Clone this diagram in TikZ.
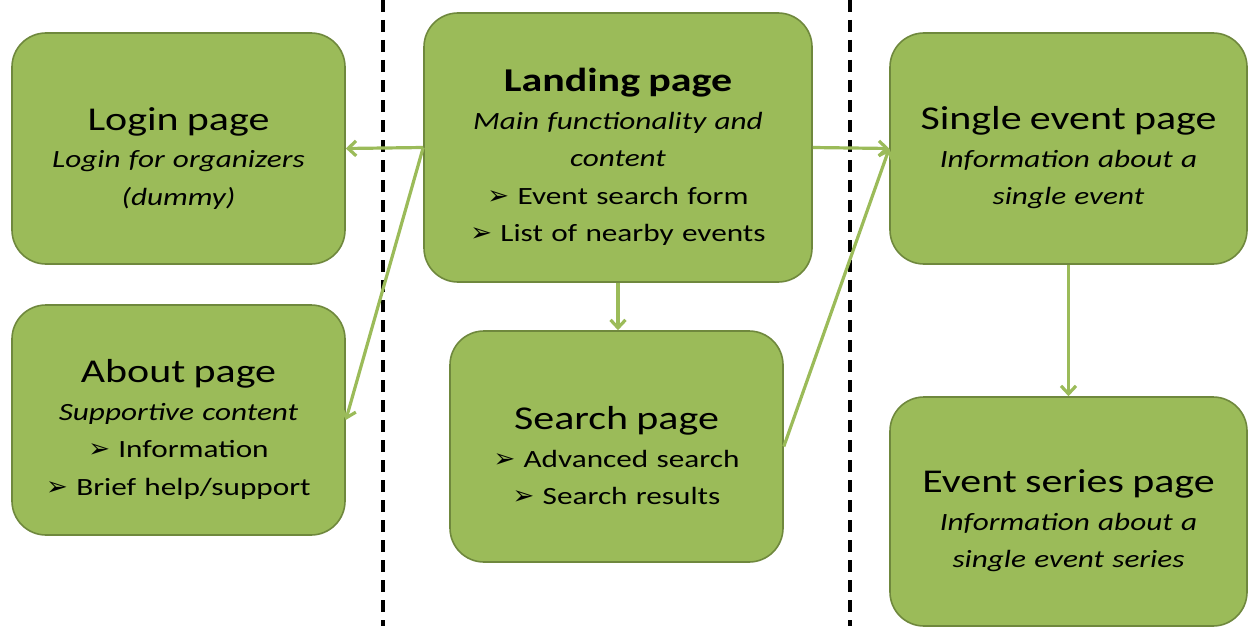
\documentclass[tikz,border=0pt]{standalone}
\usepackage{fontspec}
\setmainfont{Carlito}[FakeStretch=1.26]
\newfontfamily\bulletfont{DejaVu Sans}
\usetikzlibrary{arrows.meta}
\newcommand{\pbullet}{{\bulletfont\fontsize{26}{26}\selectfont ➢}\ }
\newcommand{\ptitle}[1]{\rule{0pt}{42pt}{\fontsize{33.3}{37}\selectfont #1}}
\begin{document}
\begin{tikzpicture}[x=1pt,y=-1pt,
  pagebox/.style={draw=edgegreen,fill=boxgreen,line width=1.6pt,rounded corners=34pt,
    align=center,inner sep=0pt,font=\fontsize{24.8}{37.5}\selectfont},
  link/.style={draw=linkgreen,line width=3.2pt,-{Straight Barb[length=8pt,width=15pt]}},
  divider/.style={line width=3.4pt,dash pattern=on 12pt off 8pt}]
  \definecolor{boxgreen}{HTML}{9BBB59}
  \definecolor{edgegreen}{HTML}{6F883D}
  \definecolor{linkgreen}{HTML}{9BBB59}
  \useasboundingbox (0,0) rectangle (1249,626);
  \coordinate (lefttop) at (383,0);
  \coordinate (leftbot) at (383,626);
  \coordinate (righttop) at (850,0);
  \coordinate (rightbot) at (850,626);
  \draw [divider] (lefttop) -- (leftbot);
  \draw [divider] (righttop) -- (rightbot);
  \node [pagebox,minimum width=333pt,minimum height=231pt,text width=320pt] (login) at (178.5,148.5)
    {\ptitle{Login page}\\ \textit{Login for organizers}\\ \textit{(dummy)}};
  \node [pagebox,minimum width=333pt,minimum height=230pt,text width=320pt] (about) at (178.5,420)
    {\ptitle{About page}\\ \textit{Supportive content}\\ \pbullet Information\\ \pbullet Brief help/support};
  \node [pagebox,minimum width=388pt,minimum height=269pt,text width=375pt] (landing) at (618,147.5)
    {\ptitle{\bfseries Landing page}\\ \textit{Main functionality and}\\ \textit{content}\\
     \pbullet Event search form\\ \pbullet List of nearby events};
  \node [pagebox,minimum width=333pt,minimum height=231pt,text width=320pt] (search) at (616.5,446.5)
    {\ptitle{Search page}\\ \pbullet Advanced search\\ \pbullet Search results};
  \node [pagebox,minimum width=357pt,minimum height=231pt,text width=345pt] (single) at (1068.5,148.5)
    {\ptitle{Single event page}\\ \textit{Information about a}\\ \textit{single event}};
  \node [pagebox,minimum width=357pt,minimum height=229pt,text width=345pt] (series) at (1068.5,511.5)
    {\ptitle{Event series page}\\ \textit{Information about a}\\ \textit{single event series}};
  \draw [link] (landing.west) -- (login.east);
  \draw [link] (landing.west) -- (about.east);
  \draw [link] (landing.east) -- (single.west);
  \draw [link] (search.east) -- (single.west);
  \draw [link] (landing.south) -- (landing.south |- search.north);
  \draw [link] (single.south) -- (series.north);
\end{tikzpicture}
\end{document}
